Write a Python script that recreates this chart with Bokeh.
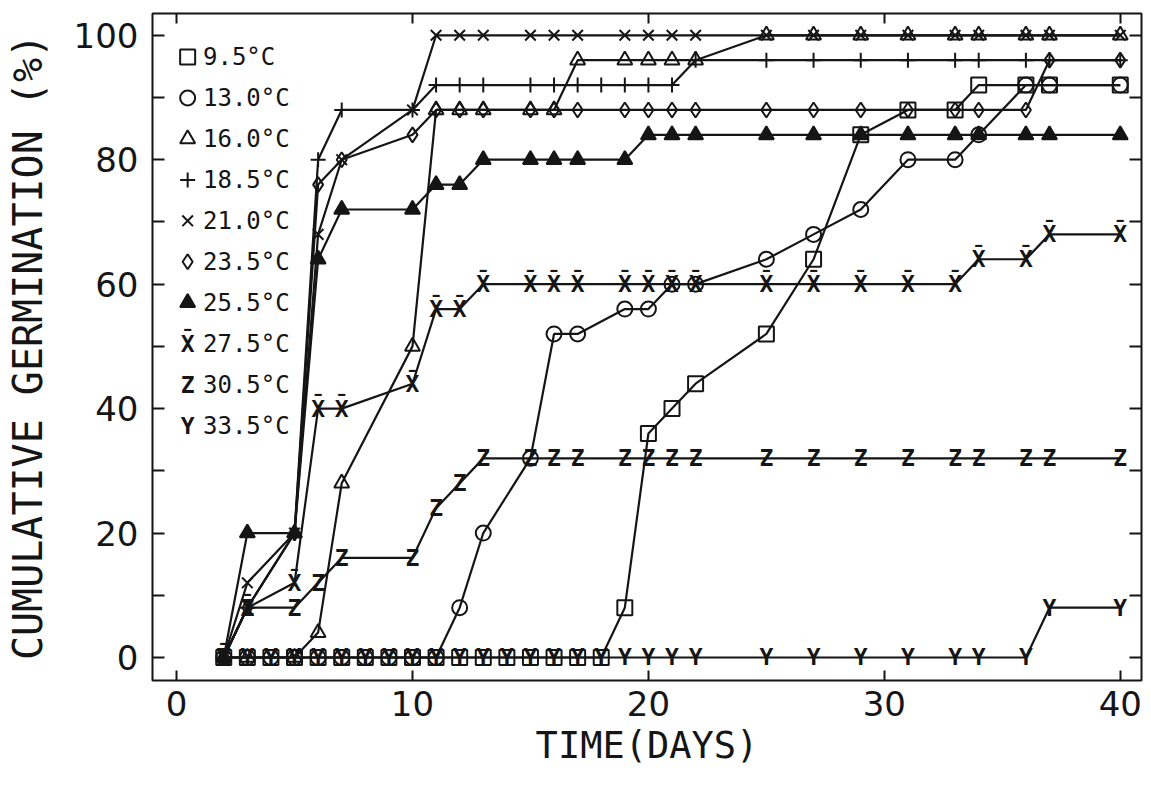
from bokeh.plotting import figure
from bokeh.models import Range1d, LinearAxis, FixedTicker, CustomJSTickFormatter
from bokeh.core.properties import value
from bokeh.embed import file_html
from bokeh.resources import INLINE

# ---------------- data ----------------
temps = ["9.5°C", "13.0°C", "16.0°C", "18.5°C", "21.0°C",
         "23.5°C", "25.5°C", "27.5°C", "30.5°C", "33.5°C"]

days_95 = [2, 3, 4, 5, 6, 7, 8, 9, 10, 11, 12, 13, 14, 15, 16, 17, 18,
           19, 20, 21, 22, 25, 27, 29, 31, 33, 34, 36, 37, 40]
germ_95 = [0, 0, 0, 0, 0, 0, 0, 0, 0, 0, 0, 0, 0, 0, 0, 0, 0,
           8, 36, 40, 44, 52, 64, 84, 88, 88, 92, 92, 92, 92]

days_130 = [2, 3, 4, 5, 6, 7, 8, 9, 10, 11, 12, 13, 15, 16, 17, 19, 20,
            21, 22, 25, 27, 29, 31, 33, 34, 36, 37, 40]
germ_130 = [0, 0, 0, 0, 0, 0, 0, 0, 0, 0, 8, 20, 32, 52, 52, 56, 56,
            60, 60, 64, 68, 72, 80, 80, 84, 92, 92, 92]

days_main = [2, 3, 5, 6, 7, 10, 11, 12, 13, 15, 16, 17, 19, 20, 21, 22,
             25, 27, 29, 31, 33, 34, 36, 37, 40]

germ_160 = [0, 0, 0, 4, 28, 50, 88, 88, 88, 88, 88, 96, 96, 96, 96, 96,
            100, 100, 100, 100, 100, 100, 100, 100, 100]

days_185 = [2, 3, 5, 6, 7, 10, 11, 12, 13, 15, 16, 17, 18, 19, 20, 21, 22,
            25, 27, 29, 31, 33, 34, 36, 37, 40]
germ_185 = [0, 8, 20, 80, 88, 88, 92, 92, 92, 92, 92, 92, 92, 92, 92, 92, 96,
            96, 96, 96, 96, 96, 96, 96, 96, 96]

germ_210 = [0, 12, 20, 68, 80, 88, 100, 100, 100, 100, 100, 100, 100, 100, 100, 100,
            100, 100, 100, 100, 100, 100, 100, 100, 100]
germ_235 = [0, 8, 20, 76, 80, 84, 88, 88, 88, 88, 88, 88, 88, 88, 88, 88,
            88, 88, 88, 88, 88, 88, 88, 96, 96]
germ_255 = [0, 20, 20, 64, 72, 72, 76, 76, 80, 80, 80, 80, 80, 84, 84, 84,
            84, 84, 84, 84, 84, 84, 84, 84, 84]
germ_275 = [0, 8, 12, 40, 40, 44, 56, 56, 60, 60, 60, 60, 60, 60, 60, 60,
            60, 60, 60, 60, 60, 64, 64, 68, 68]
germ_305 = [0, 8, 8, 12, 16, 16, 24, 28, 32, 32, 32, 32, 32, 32, 32, 32,
            32, 32, 32, 32, 32, 32, 32, 32, 32]

days_335 = days_95
germ_335 = [0, 0, 0, 0, 0, 0, 0, 0, 0, 0, 0, 0, 0, 0, 0, 0, 0,
            0, 0, 0, 0, 0, 0, 0, 0, 0, 0, 0, 8, 8]

x_ticks = [0, 10, 20, 30, 40]
y_ticks = [0, 20, 40, 60, 80, 100]
y_minor = [10, 30, 50, 70, 90]

# marker style per series (kind, filled)
markers = [("square", False), ("circle", False), ("triangle", False), ("cross", False),
           ("x", False), ("diamond", False), ("triangle", True), ("T:X\u0304", False),
           ("T:Z", False), ("T:Y", False)]
series_days = [days_95, days_130, days_main, days_185, days_main,
               days_main, days_main, days_main, days_main, days_335]
series_vals = [germ_95, germ_130, germ_160, germ_185, germ_210,
               germ_235, germ_255, germ_275, germ_305, germ_335]

# ---------------- styling ----------------
INK = "#151515"
MONO = "DejaVu Sans Mono"
SANS = "DejaVu Sans"

p = figure(width=1151, height=790,
           x_range=Range1d(-1.02, 40.9), y_range=Range1d(-3.7, 103.5),
           output_backend="svg", toolbar_location=None,
           min_border_left=152, min_border_right=10,
           min_border_top=13, min_border_bottom=110)
p.xgrid.visible = False
p.ygrid.visible = False
p.outline_line_color = INK
p.outline_line_width = 2
p.background_fill_color = "white"
p.border_fill_color = "white"

for ax in (p.xaxis[0], p.yaxis[0]):
    ax.axis_line_color = None
    ax.major_tick_out = 0
    ax.minor_tick_out = 0
    ax.major_tick_line_color = INK
    ax.major_tick_line_width = 2
    ax.minor_tick_line_color = INK
    ax.minor_tick_line_width = 2
    ax.major_label_text_font = SANS
    ax.major_label_text_font_size = "34px"
    ax.major_label_text_color = INK
    ax.axis_label_text_font = MONO
    ax.axis_label_text_font_style = "normal"
    ax.axis_label_text_color = INK

p.xaxis.ticker = FixedTicker(ticks=x_ticks)
p.xaxis.major_tick_in = 10
p.xaxis.major_label_standoff = 10
p.xaxis.axis_label = "TIME(DAYS)"
p.xaxis.axis_label_text_font_size = "37px"
p.xaxis.axis_label_standoff = 5

p.yaxis.ticker = FixedTicker(ticks=y_ticks, minor_ticks=y_minor)
p.yaxis.major_tick_in = 12
p.yaxis.minor_tick_in = 12
p.yaxis.major_label_standoff = 14
p.yaxis.axis_label = "CUMULATIVE GERMINATION (%)"
p.yaxis.axis_label_text_font_size = "40px"
p.yaxis.axis_label_standoff = 20

blank = CustomJSTickFormatter(code="return ''")
top = LinearAxis(ticker=FixedTicker(ticks=x_ticks), formatter=blank,
                 axis_line_color=None, major_tick_in=10, major_tick_out=0,
                 major_tick_line_color=INK, major_tick_line_width=2,
                 major_label_standoff=0, major_label_text_font_size="0px")
right = LinearAxis(ticker=FixedTicker(ticks=y_ticks, minor_ticks=y_minor), formatter=blank,
                   axis_line_color=None, major_tick_in=12, major_tick_out=0,
                   minor_tick_in=12, minor_tick_out=0,
                   major_tick_line_color=INK, major_tick_line_width=2,
                   minor_tick_line_color=INK, minor_tick_line_width=2,
                   major_label_standoff=0, major_label_text_font_size="0px")
p.add_layout(top, "above")
p.add_layout(right, "right")


def draw_marks(kind, filled, xs, ys):
    if kind.startswith("T:"):
        ch = kind[2:]
        p.text(x=xs, y=ys, text=[ch] * len(xs), text_font=value(MONO),
               text_font_size="23px", text_align="center", text_baseline="middle",
               text_color=INK, text_font_style="bold")
    else:
        p.scatter(x=xs, y=ys, marker=kind, size=15, line_color=INK, line_width=2,
                  fill_color=INK if filled else None)


for d, v, (kind, filled) in zip(series_days, series_vals, markers):
    p.line(d, v, line_color=INK, line_width=2.2)
    draw_marks(kind, filled, d, v)

# ---------------- legend (layout in data units, top-left of frame) ----------------
LEG_X_MARK = 0.47
LEG_X_TEXT = 1.12
LEG_Y_TOP = 96.5
LEG_STEP = 6.58
for i, (lab, (kind, filled)) in enumerate(zip(temps, markers)):
    yy = LEG_Y_TOP - i * LEG_STEP
    draw_marks(kind, filled, [LEG_X_MARK], [yy])
    p.text(x=[LEG_X_TEXT], y=[yy], text=[lab], text_font=value(MONO),
           text_font_size="24px", text_align="left", text_baseline="middle",
           text_color=INK)

open("out.html", "w").write(file_html(p, INLINE))
